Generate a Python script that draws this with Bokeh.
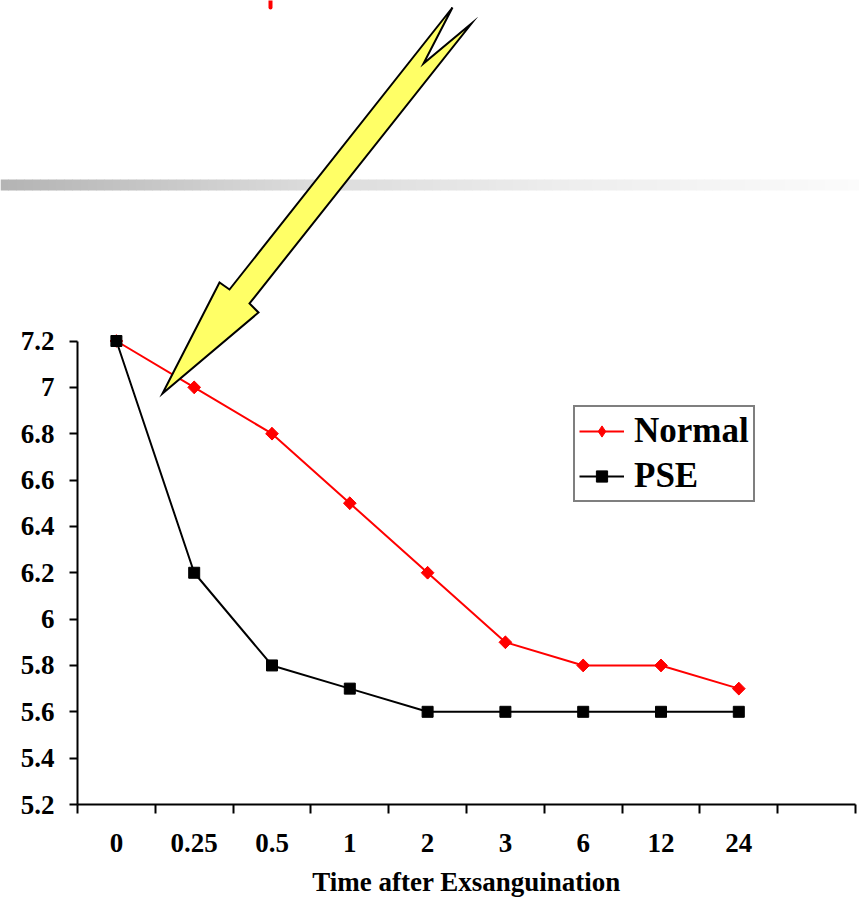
import numpy as np
from bokeh.plotting import figure
from bokeh.models import Range1d, FixedTicker, BoxAnnotation, Legend, LegendItem, Label
from bokeh.embed import file_html
from bokeh.resources import INLINE

# ---------------- data ----------------
categories = ["0", "0.25", "0.5", "1", "2", "3", "6", "12", "24"]
normal = [7.2, 7.0, 6.8, 6.5, 6.2, 5.9, 5.8, 5.8, 5.7]
pse = [7.2, 6.2, 5.8, 5.7, 5.6, 5.6, 5.6, 5.6, 5.6]
y_tick_labels = ["5.2", "5.4", "5.6", "5.8", "6", "6.2", "6.4", "6.6", "6.8", "7", "7.2"]
series_names = ["Normal", "PSE"]
x_title = "Time after Exsanguination"
n_slots = 10  # category slots on the axis (last one empty)

# ---------------- layout ----------------
W, H = 859, 899
AX_LEFT, AX_RIGHT = 77, 855      # pixel extent of the x axis line
Y_HI_PX, Y_LO_PX = 340.5, 804    # pixel rows of 7.2 and 5.2
Y_LO, Y_HI = 5.2, 7.2

ppu_y = (Y_LO_PX - Y_HI_PX) / (Y_HI - Y_LO)
ppu_x = (AX_RIGHT - AX_LEFT) / n_slots


def dx(px):
    return (px - AX_LEFT) / ppu_x


def dy(py):
    return Y_HI + (Y_HI_PX - py) / ppu_y


FONT = "Liberation Serif"

# the frame fills the whole canvas; both axes are pinned inside it
p = figure(width=W, height=H, x_range=Range1d(dx(0), dx(W)), y_range=Range1d(dy(H), dy(0)),
           output_backend="svg", toolbar_location=None,
           min_border_left=0, min_border_right=0, min_border_top=0, min_border_bottom=0)
p.outline_line_color = None
p.grid.visible = False
p.background_fill_color = "white"
p.border_fill_color = "white"

# ---------------- decorations ----------------
# gradient bar
grad_stops = [(0, 179), (300, 218), (560, 237), (859, 251)]
step = 8
for sx in range(0, W, step):
    g = int(round(np.interp(sx + step / 2, [s[0] for s in grad_stops], [s[1] for s in grad_stops])))
    col = "#%02x%02x%02x" % (g, g, g)
    p.add_layout(BoxAnnotation(left=dx(sx), right=dx(sx + step + 0.5), top=dy(179), bottom=dy(190),
                               fill_color=col, fill_alpha=1, line_color=None, level="underlay"))

# red fragment at the top (bottom of cut-off title)
p.line([dx(270), dx(270)], [dy(0), dy(7)], line_color="red", line_width=4, line_cap="round")

# ---------------- axes ----------------
xc = [i + 0.5 for i in range(len(categories))]

xa = p.xaxis[0]
xa.fixed_location = Y_LO
xa.bounds = (0, n_slots)
xa.ticker = FixedTicker(ticks=xc, minor_ticks=list(range(n_slots + 1)))
xa.major_label_overrides = {x: c for x, c in zip(xc, categories)}
xa.major_tick_out = 0
xa.major_tick_in = 0
xa.minor_tick_out = 9
xa.minor_tick_in = 0
xa.minor_tick_line_width = 2
xa.minor_tick_line_color = "black"
xa.axis_line_width = 2
xa.axis_line_color = "black"
xa.major_label_text_font = FONT
xa.major_label_text_font_style = "bold"
xa.major_label_text_font_size = "27px"
xa.major_label_text_color = "black"
xa.major_label_standoff = 20

# axis title, centred under the axis line
p.add_layout(Label(x=n_slots / 2, y=dy(881), text=x_title, text_align="center",
                   text_baseline="middle", text_font=FONT, text_font_style="bold",
                   text_font_size="27px", text_color="black"))

yticks = [float(s) for s in y_tick_labels]
ya = p.yaxis[0]
ya.fixed_location = 0
ya.bounds = (Y_LO, Y_HI)
ya.ticker = FixedTicker(ticks=yticks, minor_ticks=[])
ya.major_label_overrides = {t: s for t, s in zip(yticks, y_tick_labels)}
ya.major_tick_out = 8
ya.major_tick_in = 0
ya.major_tick_line_width = 2
ya.major_tick_line_color = "black"
ya.axis_line_width = 2
ya.axis_line_color = "black"
ya.major_label_text_font = FONT
ya.major_label_text_font_style = "bold"
ya.major_label_text_font_size = "27px"
ya.major_label_text_color = "black"
ya.major_label_standoff = 15

# ---------------- series ----------------
l1 = p.line(xc, normal, line_color="red", line_width=2)
# diamond used as legend glyph (hidden beneath the rotated squares in the plot)
d1 = p.scatter(xc, normal, marker="diamond", size=12, fill_color="red", line_color="red")
m1 = p.scatter(xc, normal, marker="square", angle=np.pi / 4, size=9, fill_color="red", line_color="red")
l2 = p.line(xc, pse, line_color="black", line_width=2)
m2 = p.scatter(xc, pse, marker="square", size=11, fill_color="black", line_color="black")

# ---------------- arrow (decoration, drawn on top) ----------------
arrow_px = [(452, 7), (423, 63), (471, 23), (249, 303), (258, 312), (162, 393), (219, 282), (229, 289)]
p.patch([dx(a[0]) for a in arrow_px], [dy(a[1]) for a in arrow_px],
        fill_color="#FFFF66", line_color="black", line_width=2, line_join="miter", level="overlay")

# ---------------- legend ----------------
legend = Legend(items=[LegendItem(label=series_names[0], renderers=[l1, d1]),
                       LegendItem(label=series_names[1], renderers=[l2, m2])],
                location=(573, H - 502))
legend.border_line_color = "black"
legend.border_line_width = 2
legend.background_fill_color = "white"
legend.background_fill_alpha = 1
legend.label_text_font = FONT
legend.label_text_font_style = "bold"
legend.label_text_font_size = "35px"
legend.label_text_color = "black"
legend.glyph_width = 45
legend.glyph_height = 28
legend.label_height = 36
legend.spacing = 5
legend.padding = 4
legend.margin = 0
legend.label_standoff = 10
p.add_layout(legend)

open("out.html", "w").write(file_html(p, INLINE))
